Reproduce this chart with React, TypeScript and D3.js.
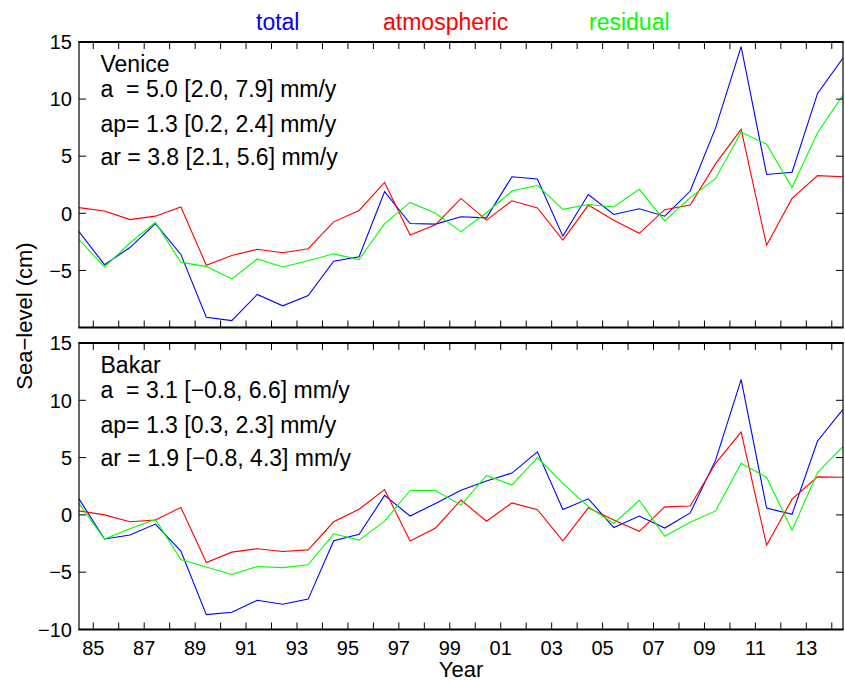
import React from "react";
import * as d3 from "d3";

const years = d3.range(1984, 2015);
const tickYears = d3.range(1985, 2015);
const labelYears = d3.range(1985, 2015, 2);
const yTicks = [-10, -5, 0, 5, 10, 15];

const veniceTotal = [-1.6, -4.5, -3.0, -0.9, -3.6, -9.1, -9.4, -7.1, -8.1, -7.2, -4.2, -3.8, 1.9, -0.9, -0.95, -0.3, -0.4, 3.2, 3.0, -2.0, 1.65, -0.1, 0.4, -0.25, 1.95, 7.5, 14.6, 3.4, 3.6, 10.5, 13.6];
const veniceAtmo = [0.5, 0.2, -0.55, -0.25, 0.55, -4.55, -3.7, -3.15, -3.45, -3.1, -0.75, 0.25, 2.7, -1.9, -1.0, 1.3, -0.6, 1.1, 0.47, -2.35, 0.72, -0.6, -1.75, 0.32, 0.73, 4.35, 7.35, -2.8, 1.3, 3.3, 3.2];
const veniceResid = [-2.3, -4.7, -2.6, -0.8, -4.3, -4.65, -5.75, -4.0, -4.7, -4.15, -3.55, -4.05, -0.9, 0.95, 0.0, -1.6, 0.05, 1.95, 2.45, 0.35, 0.77, 0.55, 2.1, -0.67, 1.37, 3.05, 7.1, 6.05, 2.25, 7.05, 10.35];

const bakarTotal = [1.4, -2.1, -1.75, -0.8, -3.15, -8.7, -8.5, -7.45, -7.8, -7.35, -2.25, -1.7, 1.7, -0.1, 1.0, 2.15, 2.95, 3.65, 5.5, 0.47, 1.4, -1.1, -0.1, -1.15, 0.17, 4.8, 11.8, 0.6, 0.05, 6.45, 9.2];
const bakarAtmo = [0.35, 0.0, -0.6, -0.45, 0.65, -4.15, -3.25, -2.95, -3.2, -3.05, -0.6, 0.5, 2.2, -2.27, -1.14, 1.3, -0.55, 1.05, 0.45, -2.27, 0.62, -0.45, -1.43, 0.7, 0.78, 4.5, 7.23, -2.65, 1.37, 3.32, 3.28];
const bakarResid = [1.0, -2.1, -1.2, -0.4, -3.9, -4.55, -5.2, -4.5, -4.6, -4.35, -1.65, -2.2, -0.55, 2.13, 2.13, 0.85, 3.45, 2.6, 5.0, 2.75, 0.72, -0.75, 1.28, -1.86, -0.65, 0.35, 4.5, 3.27, -1.34, 3.7, 5.95];

const seriesNames = ["total", "atmospheric", "residual"];
const seriesColors = ["#0000ff", "#ff0000", "#00ff00"];

const panels = [
  {
    name: "Venice",
    lines: ["a  = 5.0 [2.0, 7.9] mm/y", "ap= 1.3 [0.2, 2.4] mm/y", "ar = 3.8 [2.1, 5.6] mm/y"],
    series: [veniceTotal, veniceAtmo, veniceResid],
    top: 42,
    bottom: 327.5,
    labels: [-5, 0, 5, 10, 15],
  },
  {
    name: "Bakar",
    lines: ["a  = 3.1 [−0.8, 6.6] mm/y", "ap= 1.3 [0.3, 2.3] mm/y", "ar = 1.9 [−0.8, 4.3] mm/y"],
    series: [bakarTotal, bakarAtmo, bakarResid],
    top: 343,
    bottom: 629.5,
    labels: [-10, -5, 0, 5, 10, 15],
  },
];

const MID = 0.44;
const LEFT = 79;
const RIGHT = 843;
const FONT = "'Liberation Sans', Arial, Helvetica, sans-serif";

const fmt = (v: number) => (v < 0 ? "−" + Math.abs(v) : String(v));

export default function App() {
  const x = d3.scaleLinear().domain([1984 + MID, 2014 + MID]).range([LEFT, RIGHT]);
  const TL = 7;
  return (
    <svg width={845} height={682} style={{ position: "absolute", left: 0, top: 0, display: "block", background: "#fff" }} fontFamily={FONT}>
      <rect x={0} y={0} width={845} height={682} fill="#fff" />
      {seriesNames.map((n, i) => (
        <text key={n} x={[256, 383, 589][i]} y={30} fontSize={23} fill={seriesColors[i]}>
          {n}
        </text>
      ))}
      {panels.map((p, pi) => {
        const y = d3.scaleLinear().domain([-10, 15]).range([p.bottom, p.top]);
        const line = d3
          .line<number>()
          .x((_, i) => x(years[i] + MID))
          .y((d) => y(d));
        return (
          <g key={p.name}>
            <defs>
              <clipPath id={"clip" + pi}>
                <rect x={LEFT} y={p.top} width={RIGHT - LEFT} height={p.bottom - p.top} />
              </clipPath>
            </defs>
            <g clipPath={`url(#clip${pi})`}>
              {p.series.map((s, si) => (
                <path key={si} d={line(s) || ""} fill="none" stroke={seriesColors[si]} strokeWidth={1.1} />
              ))}
            </g>
            <line x1={LEFT} x2={LEFT} y1={p.top} y2={p.bottom} stroke="#000" strokeWidth={1.2} />
            <line x1={RIGHT} x2={RIGHT} y1={p.top} y2={p.bottom} stroke="#000" strokeWidth={1.2} />
            <line x1={LEFT - 0.6} x2={RIGHT + 0.6} y1={p.top} y2={p.top} stroke="#000" strokeWidth={1.8} />
            <line x1={LEFT - 0.6} x2={RIGHT + 0.6} y1={p.bottom} y2={p.bottom} stroke="#000" strokeWidth={1.8} />
            {tickYears.map((t) => (
              <g key={t}>
                <line x1={x(t)} x2={x(t)} y1={p.bottom} y2={p.bottom - TL} stroke="#000" strokeWidth={1} />
                <line x1={x(t)} x2={x(t)} y1={p.top} y2={p.top + TL} stroke="#000" strokeWidth={1} />
              </g>
            ))}
            {yTicks.map((t) => (
              <g key={t}>
                <line x1={LEFT} x2={LEFT + TL} y1={y(t)} y2={y(t)} stroke="#000" strokeWidth={1} />
                <line x1={RIGHT} x2={RIGHT - TL} y1={y(t)} y2={y(t)} stroke="#000" strokeWidth={1} />
              </g>
            ))}
            {p.labels.map((t) => (
              <text key={t} x={72} y={y(t)} dy="0.36em" textAnchor="end" fontSize={20}>
                {fmt(t)}
              </text>
            ))}
            <text x={100.5} y={p.top + 29.5} fontSize={23}>
              {p.name}
            </text>
            {p.lines.map((l, li) => (
              <text key={li} x={100.5} y={p.top + [54.5, 89.5, 123][li]} fontSize={23} style={{ whiteSpace: "pre" }}>
                {l}
              </text>
            ))}
          </g>
        );
      })}
      {labelYears.map((t) => (
        <text key={t} x={x(t)} y={655} textAnchor="middle" fontSize={20}>
          {String(t % 100).padStart(2, "0")}
        </text>
      ))}
      <text x={(LEFT + RIGHT) / 2} y={677} textAnchor="middle" fontSize={22}>
        Year
      </text>
      <text transform="translate(32,316) rotate(-90)" textAnchor="middle" fontSize={22}>
        Sea−level (cm)
      </text>
    </svg>
  );
}
